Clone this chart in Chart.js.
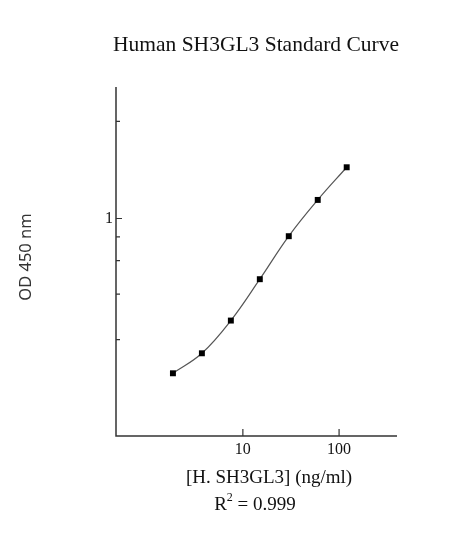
<!DOCTYPE html>
<html>
<head>
<meta charset="utf-8">
<script src="https://cdn.jsdelivr.net/npm/chart.js@4/dist/chart.umd.min.js"></script>
<style>
  html, body { margin: 0; padding: 0; background: #fff; }
  #wrap { width: 474px; height: 533px; }
</style>
</head>
<body>
<div id="wrap"><canvas id="myChart" width="474" height="533"></canvas></div>
<script>
// standard concentrations (ng/ml) and measured OD
const conc = [1.875, 3.75, 7.5, 15, 30, 60, 120];
const od = [0.153, 0.195, 0.290, 0.479, 0.807, 1.253, 1.862];

// axis ticks
const xMajorTicks = [10, 100];
const xTickLabels = ['10', '100'];
const yMajorTicks = [1];
const yTickLabels = ['1'];
const yMinorTicks = [3.25, 0.8, 0.6, 0.4, 0.23];

const titleText = 'Human SH3GL3 Standard Curve';
const xTitle = '[H. SH3GL3] (ng/ml)';
const yTitle = 'OD 450 nm';

// draws the axes, inward ticks and all the labels
const frame = {
  id: 'frame',
  afterDraw(chart) {
    const c = chart.ctx;
    const a = chart.chartArea;
    const xs = chart.scales.x, ys = chart.scales.y;
    c.save();

    c.strokeStyle = '#333';
    c.lineWidth = 1.5;
    c.beginPath();
    c.moveTo(a.left, a.top);
    c.lineTo(a.left, a.bottom);
    c.lineTo(a.right, a.bottom);
    c.stroke();

    c.lineWidth = 1.2;
    c.beginPath();
    xMajorTicks.forEach(v => {
      const px = xs.getPixelForValue(v);
      c.moveTo(px, a.bottom);
      c.lineTo(px, a.bottom - 7);
    });
    yMajorTicks.forEach(v => {
      const py = ys.getPixelForValue(v);
      c.moveTo(a.left, py);
      c.lineTo(a.left + 6, py);
    });
    yMinorTicks.forEach(v => {
      const py = ys.getPixelForValue(v);
      c.moveTo(a.left, py);
      c.lineTo(a.left + 4, py);
    });
    c.stroke();

    c.fillStyle = '#111';
    c.font = '16px "Liberation Serif"';
    c.textAlign = 'center';
    c.textBaseline = 'alphabetic';
    xMajorTicks.forEach((v, i) => {
      c.fillText(xTickLabels[i], xs.getPixelForValue(v), a.bottom + 18);
    });
    c.textAlign = 'right';
    c.textBaseline = 'middle';
    yMajorTicks.forEach((v, i) => {
      c.fillText(yTickLabels[i], a.left - 3, ys.getPixelForValue(v));
    });

    // title
    c.textAlign = 'center';
    c.textBaseline = 'alphabetic';
    c.font = '21.5px "Liberation Serif"';
    c.fillText(titleText, 256, 51);

    // x title and R squared
    c.font = '19px "Liberation Serif"';
    c.fillText(xTitle, 269, 483);
    const rA = 'R', rB = ' = 0.999';
    c.font = '19px "Liberation Serif"';
    const wA = c.measureText(rA).width;
    const wB = c.measureText(rB).width;
    c.font = '12px "Liberation Serif"';
    const wS = c.measureText('2').width;
    let x0 = 255 - (wA + wS + wB) / 2;
    c.textAlign = 'left';
    c.font = '19px "Liberation Serif"';
    c.fillText(rA, x0, 510);
    c.font = '12px "Liberation Serif"';
    c.fillText('2', x0 + wA, 501);
    c.font = '19px "Liberation Serif"';
    c.fillText(rB, x0 + wA + wS, 510);

    // y title
    c.translate(26, 257);
    c.rotate(-Math.PI / 2);
    c.textAlign = 'center';
    c.textBaseline = 'middle';
    c.fillStyle = '#333';
    c.font = '16.5px "Noto Sans"';
    c.fillText(yTitle, 0, 0);
    c.restore();
  }
};

function init() {
  const ctx = document.getElementById('myChart');
  new Chart(ctx, {
    type: 'line',
    data: {
      datasets: [{
        data: conc.map((x, i) => ({ x: x, y: od[i] })),
        borderColor: '#555',
        borderWidth: 1.2,
        tension: 0.4,
        pointStyle: 'rect',
        pointRadius: 4.2,
        pointBackgroundColor: '#000',
        pointBorderColor: '#000',
        pointBorderWidth: 0,
      }]
    },
    options: {
      responsive: false,
      animation: false,
      devicePixelRatio: 1,
      layout: {
        padding: { left: 116, right: 77, top: 87, bottom: 97 }
      },
      plugins: {
        legend: { display: false },
        tooltip: { enabled: false }
      },
      scales: {
        x: { type: 'logarithmic', min: 0.48, max: 400, display: false },
        y: { type: 'logarithmic', min: 0.0715, max: 4.93, display: false }
      }
    },
    plugins: [frame]
  });
}

document.addEventListener("DOMContentLoaded", init, false);
</script>
</body>
</html>
